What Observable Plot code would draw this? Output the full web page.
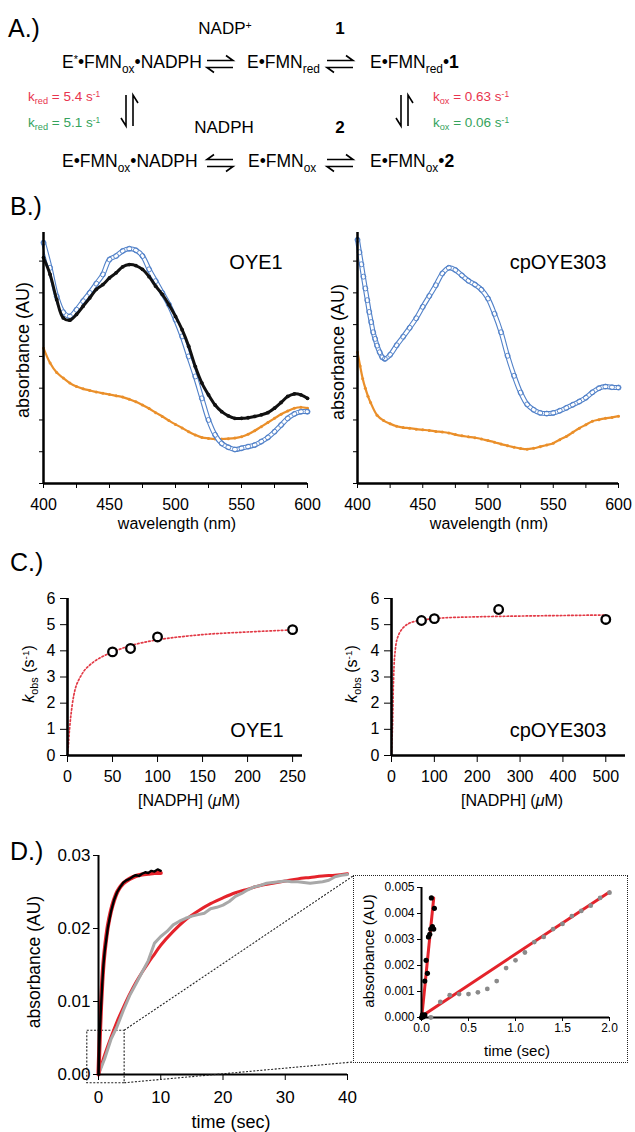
<!DOCTYPE html>
<html><head><meta charset="utf-8">
<script src="https://cdn.jsdelivr.net/npm/d3@7"></script>
<script src="https://cdn.jsdelivr.net/npm/@observablehq/plot@0.6"></script>
<style>
body{margin:0;background:#fff;}
#page{position:relative;width:635px;height:1132px;overflow:hidden;background:#fff;font-family:"Liberation Sans",Arial,Helvetica,sans-serif;color:#000;}
.t{position:absolute;white-space:nowrap;line-height:1;}
.sb{font-size:0.68em;position:relative;top:0.38em;}
.sp{font-size:0.62em;position:relative;top:-0.5em;}
</style></head><body><div id="page"></div>
<script>
// ---------- DATA ----------
// Panel B : spectra (wavelength nm, absorbance a.u.)
const wavelengths = [400,405,410,415,420,425,430,435,440,445,450,455,460,465,470,475,480,485,490,495,500,505,510,515,520,525,530,535,540,545,550,555,560,565,570,575,580,585,590,595,600];
const oye1Black  = [0.711,0.658,0.579,0.521,0.514,0.532,0.558,0.584,0.611,0.626,0.647,0.663,0.682,0.689,0.686,0.674,0.651,0.621,0.595,0.563,0.526,0.484,0.432,0.368,0.316,0.279,0.247,0.226,0.213,0.205,0.205,0.207,0.211,0.216,0.223,0.237,0.255,0.274,0.282,0.279,0.268];
const oye1Blue   = [0.758,0.679,0.589,0.539,0.526,0.547,0.574,0.600,0.629,0.658,0.705,0.716,0.732,0.739,0.734,0.716,0.674,0.637,0.600,0.563,0.516,0.463,0.400,0.337,0.268,0.200,0.153,0.126,0.114,0.107,0.111,0.116,0.121,0.132,0.145,0.163,0.184,0.205,0.219,0.226,0.226];
const oye1Orange = [0.426,0.379,0.349,0.332,0.316,0.305,0.298,0.293,0.288,0.284,0.280,0.276,0.272,0.265,0.257,0.247,0.236,0.223,0.211,0.198,0.186,0.175,0.163,0.153,0.145,0.142,0.140,0.140,0.141,0.143,0.147,0.155,0.166,0.179,0.192,0.205,0.218,0.228,0.237,0.240,0.237];
const cpBlueWl = [400,401.5,403,404.5,406,407.5,409,410.5,412,413.5,415,417,419,421,425,430,435,440,445,450,455,460,465,470,475,480,485,490,495,500,505,510,515,520,525,530,535,540,545,550,555,560,565,570,575,580,585,590,595,600];
const cpBlue   = [0.767,0.728,0.690,0.651,0.614,0.577,0.540,0.508,0.476,0.455,0.434,0.413,0.397,0.392,0.405,0.435,0.462,0.490,0.520,0.556,0.590,0.624,0.661,0.679,0.672,0.655,0.638,0.626,0.610,0.582,0.534,0.476,0.402,0.339,0.286,0.249,0.232,0.222,0.220,0.222,0.229,0.238,0.248,0.258,0.270,0.287,0.300,0.305,0.303,0.302];
const cpOrangeWl = [400,402,404,406,408,410,415,420,425,430,435,440,445,450,455,460,465,470,475,480,485,490,495,500,505,510,515,520,525,530,535,540,545,550,555,560,565,570,575,580,585,590,595,600];
const cpOrange   = [0.413,0.370,0.330,0.300,0.275,0.255,0.215,0.198,0.188,0.180,0.176,0.174,0.171,0.169,0.167,0.164,0.162,0.159,0.154,0.150,0.147,0.144,0.140,0.135,0.130,0.124,0.119,0.114,0.110,0.108,0.111,0.116,0.121,0.127,0.138,0.148,0.161,0.174,0.185,0.196,0.201,0.205,0.208,0.212];

// Panel C : kobs vs [NADPH]
const oyeConc = [50,70,100,250];
const oyeKobs = [3.96,4.09,4.53,4.81];
const oyeFitConc = [0,1,2,4,7,10,15,20,30,40,50,70,100,150,200,250];
const oyeFitK    = [0,0.40,0.90,1.60,2.30,2.70,3.05,3.30,3.60,3.80,3.95,4.20,4.42,4.62,4.72,4.80];
const cpConc = [70,100,250,500];
const cpKobs = [5.16,5.23,5.58,5.20];
const cpFitConc = [0,1,2.3,4.7,7.8,14,26,45,107,200,302,400,500];
const cpFitK    = [0,0.55,1.08,2.86,3.87,4.50,4.86,5.08,5.24,5.30,5.33,5.35,5.37];

// Panel D : time courses
const fastT   = [0,0.2,0.4,0.6,0.8,1,1.5,2,2.5,3,3.5,4,4.5,5,5.5,6,6.5,7,7.5,8,8.5,9,9.5,10];
const fastAbs = [0,0.0056,0.0092,0.0124,0.0151,0.0169,0.0201,0.0223,0.0239,0.0250,0.0257,0.0263,0.0266,0.0268,0.0271,0.0273,0.0272,0.0275,0.0277,0.0276,0.0279,0.0278,0.0281,0.0279];
const fastFitT   = [0,0.2,0.4,0.6,0.8,1,1.5,2,2.5,3,3.5,4,5,6,7,8,9,10];
const fastFitAbs = [0,0.0052,0.0094,0.0127,0.0152,0.0170,0.0203,0.0224,0.0239,0.0250,0.0257,0.0262,0.0268,0.0272,0.0274,0.0275,0.0276,0.0276];
const slowT   = [0,1,2,3,4,5,6,7,8,9,10,11,12,13,14,15,16,17,18,19,20,21,22,23,24,25,26,27,28,29,30,31,32,33,34,35,36,37,38,39,40];
const slowAbs = [0,0.0022,0.0048,0.0066,0.0088,0.0108,0.0124,0.0140,0.0156,0.0180,0.0189,0.0196,0.0205,0.0210,0.0214,0.0217,0.0219,0.0221,0.0227,0.0229,0.0232,0.0237,0.0244,0.0248,0.0253,0.0257,0.0259,0.0262,0.0263,0.0264,0.0265,0.0264,0.0264,0.0263,0.0262,0.0263,0.0264,0.0266,0.0271,0.0273,0.0274];
const slowFitT   = [0,1,2,3,4,5,6,7,8,9,10,12,14,16,18,20,22,24,26,28,30,32,34,36,38,40];
const slowFitAbs = [0,0.0027,0.0051,0.0073,0.0092,0.0110,0.0126,0.0140,0.0153,0.0165,0.0177,0.0196,0.0212,0.0224,0.0234,0.0242,0.0249,0.0254,0.0259,0.0262,0.0265,0.0268,0.0270,0.0272,0.0273,0.0275];
const zoomBoxT = [-1.8, 4.2];
const zoomBoxAbs = [-0.0012, 0.006];
// inset
const inFastT = [0,0.01,0.018,0.035,0.035,0.049,0.063,0.074,0.088,0.098,0.105,0.116,0.13,0.137];
const inFastV = [0,0.0001,0.00003,0.0001,0.0014,0.0022,0.0017,0.0031,0.0032,0.0034,0.0046,0.0035,0.0034,0.0042];
const inSlowT = [0.1,0.2,0.3,0.4,0.5,0.6,0.7,0.8,0.9,1.0,1.1,1.2,1.3,1.4,1.5,1.6,1.7,1.8,1.9,2.0];
const inSlowV = [0,0.0006,0.00086,0.0009,0.0009,0.00097,0.0011,0.0014,0.0019,0.0022,0.0025,0.0029,0.0031,0.0034,0.0036,0.0039,0.0041,0.0043,0.0046,0.0048];
const inFastFitT = [0.005,0.13], inFastFitV = [0.0001,0.0046];
const inSlowFitT = [0.01,2.0],  inSlowFitV = [0.00007,0.00483];

// ---------- HELPERS ----------
const page = document.getElementById("page");
const FONT = '"Liberation Sans", Arial, Helvetica, sans-serif';
const BLUE = "#5080c8", ORANGE = "#ea8f2a", RED = "#e4232b", CRED = "#e23a46";
const zip = (xs, ys) => xs.map((x, i) => ({x, y: ys[i]}));
function txt(html, x, y, o = {}) {
  const d = document.createElement("div");
  d.className = "t"; d.innerHTML = html;
  d.style.left = x + "px"; d.style.top = y + "px";
  d.style.fontSize = (o.size || 16) + "px";
  if (o.color) d.style.color = o.color;
  if (o.weight) d.style.fontWeight = o.weight;
  const ax = o.anchor === "start" ? "0" : o.anchor === "end" ? "-100%" : "-50%";
  d.style.transform = `translate(${ax},-50%)` + (o.rotate ? ` rotate(${o.rotate}deg)` : "");
  page.append(d);
}
function mount(svg, left, top) {
  svg.style.position = "absolute"; svg.style.left = left + "px"; svg.style.top = top + "px";
  page.append(svg); return svg;
}
const st = (fs) => ({fontFamily: FONT, fontSize: fs + "px", color: "#000", background: "transparent", overflow: "visible"});

// ---------- PANEL A (scheme) ----------
txt("A.)", 8, 28, {size: 25, anchor: "start"});
txt('NADP<span class="sp">+</span>', 225, 28, {size: 17});
txt("1", 340, 28, {size: 17, weight: "bold"});
txt('E<span class="sp">*</span>•FMN<span class="sb">ox</span>•NADPH', 62, 63, {size: 17.5, anchor: "start"});
txt('E•FMN<span class="sb">red</span>', 247, 63, {size: 17.5, anchor: "start"});
txt('E•FMN<span class="sb">red</span>•<b>1</b>', 370, 63, {size: 17.5, anchor: "start"});
txt('k<span class="sb">red</span> = 5.4 s<span class="sp">-1</span>', 28, 97, {size: 13.5, anchor: "start", color: "#e8344e"});
txt('k<span class="sb">red</span> = 5.1 s<span class="sp">-1</span>', 28, 123, {size: 13.5, anchor: "start", color: "#35a35c"});
txt('k<span class="sb">ox</span> = 0.63 s<span class="sp">-1</span>', 433, 97, {size: 13.5, anchor: "start", color: "#e8344e"});
txt('k<span class="sb">ox</span> = 0.06 s<span class="sp">-1</span>', 433, 123, {size: 13.5, anchor: "start", color: "#35a35c"});
txt("NADPH", 224, 127, {size: 17});
txt("2", 340, 127, {size: 17, weight: "bold"});
txt('E•FMN<span class="sb">ox</span>•NADPH', 62, 162, {size: 17.5, anchor: "start"});
txt('E•FMN<span class="sb">ox</span>', 248, 162, {size: 17.5, anchor: "start"});
txt('E•FMN<span class="sb">ox</span>•<b>2</b>', 370, 162, {size: 17.5, anchor: "start"});
(function arrows() {
  const ns = "http://www.w3.org/2000/svg";
  const s = document.createElementNS(ns, "svg");
  s.setAttribute("width", 635); s.setAttribute("height", 180);
  const pair = (xa, xb, yc, topRight) => {
    const yt = yc - 3.5, yb = yc + 3.5;
    return topRight
      ? `M${xa},${yt}H${xb}L${xb-7},${yt-5} M${xb},${yb}H${xa}L${xa+7},${yb+5}`
      : `M${xb},${yt}H${xa}L${xa+7},${yt-5} M${xa},${yb}H${xb}L${xb-7},${yb+5}`;
  };
  const vpair = (xc, y1, y2) => {
    const xl = xc - 3.5, xr = xc + 3.5;
    return `M${xl},${y1}V${y2}L${xl-5},${y2-8} M${xr},${y2}V${y1}L${xr+5},${y1+8}`;
  };
  const d = [pair(207,233,64,true), pair(327,353,64,true), pair(207,233,163,false), pair(327,353,163,true),
             vpair(129.5,95,126), vpair(404.5,95,126)].join(" ");
  const p = document.createElementNS(ns, "path");
  p.setAttribute("d", d); p.setAttribute("fill", "none"); p.setAttribute("stroke", "#000");
  p.setAttribute("stroke-width", 1.6);
  s.append(p); mount(s, 0, 0);
})();

// ---------- PANEL B ----------
txt("B.)", 10, 206, {size: 25, anchor: "start"});
function spectrum(series, left, width, mL, mR) {
  const marks = [];
  for (const s of series) {
    if (s.kind === "blue") {
      marks.push(Plot.line(s.data, {x: "x", y: "y", stroke: BLUE, strokeWidth: 5, curve: "catmull-rom"}));
      marks.push(Plot.line(s.data, {x: "x", y: "y", stroke: "#fff", strokeWidth: 2.8, curve: "catmull-rom"}));
      marks.push(Plot.dot(s.data, {x: "x", y: "y", r: 2.5, stroke: BLUE, strokeWidth: 0.9, fill: "none"}));
    } else {
      const c = s.kind === "orange" ? ORANGE : "#111";
      marks.push(Plot.line(s.data, {x: "x", y: "y", stroke: c, strokeWidth: s.kind === "orange" ? 2.2 : 3, curve: "catmull-rom"}));
      marks.push(Plot.dot(s.data, {x: "x", y: "y", r: s.kind === "orange" ? 1.5 : 1.9, fill: c}));
    }
  }
  marks.push(Plot.ruleX([400], {y1: 0, y2: 0.79, strokeWidth: 2.5}));
  marks.push(Plot.ruleY([0], {x1: 400, x2: 600, strokeWidth: 2.5}));
  marks.push(Plot.axisX({ticks: [400,425,450,475,500,525,550,575,600], tickFormat: d => d % 50 ? "" : d, tickSize: 5, tickPadding: 10, label: null}));
  marks.push(Plot.axisY({ticks: [0,0.1,0.2,0.3,0.4,0.5,0.6,0.7], tickFormat: () => "", tickSize: 4, label: null}));
  return mount(Plot.plot({
    width, height: 300, marginLeft: mL, marginRight: mR, marginTop: 17, marginBottom: 32,
    x: {domain: [400, 600], label: null}, y: {domain: [0, 0.79], label: null},
    style: st(16), marks
  }), left, 215);
}
spectrum([
  {kind: "orange", data: zip(wavelengths, oye1Orange)},
  {kind: "blue", data: zip(wavelengths, oye1Blue)},
  {kind: "black", data: zip(wavelengths, oye1Black)}
], 0, 320, 43, 13);
spectrum([
  {kind: "orange", data: zip(cpOrangeWl, cpOrange)},
  {kind: "blue", data: zip(cpBlueWl, cpBlue)}
], 320, 315, 37, 17);
txt("absorbance (AU)", 23, 350, {size: 18, rotate: -90});
txt("absorbance (AU)", 338, 352, {size: 18, rotate: -90});
txt("wavelength (nm)", 177, 524, {size: 16});
txt("wavelength (nm)", 489, 524, {size: 16});
txt("OYE1", 256, 262, {size: 20});
txt("cpOYE303", 558, 262, {size: 20});

// ---------- PANEL C ----------
txt("C.)", 10, 562, {size: 25, anchor: "start"});
function kinetics(pts, fit, xmax, xticks, left, width, mL, mR) {
  return mount(Plot.plot({
    width, height: 215, marginLeft: mL, marginRight: mR, marginTop: 23, marginBottom: 35,
    x: {domain: [0, xmax], label: null}, y: {domain: [0, 6], label: null},
    style: st(16),
    marks: [
      Plot.line(fit, {x: "x", y: "y", stroke: CRED, strokeWidth: 1.7, strokeDasharray: "1.6,2.2", curve: "catmull-rom"}),
      Plot.ruleX([0], {y1: 0, y2: 6, strokeWidth: 2.6}),
      Plot.ruleY([0], {x1: 0, x2: xmax, strokeWidth: 2.6}),
      Plot.axisX({ticks: xticks, tickFormat: d3.format("d"), tickSize: 7, tickPadding: 8, label: null}),
      Plot.axisY({ticks: [0,1,2,3,4,5,6], tickFormat: d3.format("d"), tickSize: 7, tickPadding: 5, label: null}),
      Plot.dot(pts, {x: "x", y: "y", r: 4.3, stroke: "#000", strokeWidth: 2.3, fill: "#fff"})
    ]
  }), left, 575);
}
kinetics(zip(oyeConc, oyeKobs), zip(oyeFitConc, oyeFitK), 261, [0,50,100,150,200,250], 0, 320, 67, 18);
kinetics(zip(cpConc, cpKobs), zip(cpFitConc, cpFitK), 546, [0,100,200,300,400,500], 320, 315, 71, 10);
const kLab = '<i>k</i><span class="sb">obs</span> (s<span class="sp">-1</span>)';
txt(kLab, 29, 674, {size: 16, rotate: -90});
txt(kLab, 352, 674, {size: 16, rotate: -90});
txt('[NADPH] (<i>μ</i>M)', 189, 801, {size: 16});
txt('[NADPH] (<i>μ</i>M)', 512, 801, {size: 16});
txt("OYE1", 257, 730, {size: 20});
txt("cpOYE303", 558, 730, {size: 20});

// ---------- PANEL D ----------
txt("D.)", 10, 851, {size: 25, anchor: "start"});
const dLeft = 0, dTop = 835;
const plotD = mount(Plot.plot({
  width: 360, height: 297, marginLeft: 98, marginRight: 13, marginTop: 20, marginBottom: 58,
  x: {domain: [0, 40], label: null}, y: {domain: [0, 0.03], label: null},
  style: st(17),
  marks: [
    Plot.rect([{x1: zoomBoxT[0], x2: zoomBoxT[1], y1: zoomBoxAbs[0], y2: zoomBoxAbs[1]}],
      {x1: "x1", x2: "x2", y1: "y1", y2: "y2", fill: "none", stroke: "#222", strokeWidth: 1.1, strokeDasharray: "2,1.6"}),
    Plot.line(zip(slowFitT, slowFitAbs), {x: "x", y: "y", stroke: RED, strokeWidth: 3, curve: "catmull-rom"}),
    Plot.line(zip(slowT, slowAbs), {x: "x", y: "y", stroke: "#a8a8a8", strokeWidth: 3}),
    Plot.line(zip(fastFitT, fastFitAbs), {x: "x", y: "y", stroke: RED, strokeWidth: 4.2, curve: "catmull-rom"}),
    Plot.line(zip(fastT, fastAbs), {x: "x", y: "y", stroke: "#000", strokeWidth: 2.4}),
    Plot.ruleX([0], {y1: 0, y2: 0.03, strokeWidth: 2}),
    Plot.ruleY([0], {x1: 0, x2: 40, strokeWidth: 2}),
    Plot.axisX({ticks: [0,10,20,30,40], tickSize: 6, tickPadding: 10, label: null}),
    Plot.axisY({ticks: [0,0.01,0.02,0.03], tickFormat: d3.format(".2f"), tickSize: 5, tickPadding: 3, label: null})
  ]
}), dLeft, dTop);
txt("absorbance (AU)", 35, 962, {size: 17.5, rotate: -90});
txt("time (sec)", 231, 1122, {size: 18});

// inset box
const inL = 353, inT = 875, inW = 275, inH = 188;
const box = document.createElement("div");
Object.assign(box.style, {position: "absolute", left: inL + "px", top: inT + "px", width: inW + "px", height: inH + "px",
  border: "1.3px dotted #222", boxSizing: "border-box"});
page.append(box);
// connectors from zoom box corners to inset box
(function connectors() {
  const sx = plotD.scale("x"), sy = plotD.scale("y");
  const cx = dLeft + sx.apply(zoomBoxT[1]);
  const cyTop = dTop + sy.apply(zoomBoxAbs[1]), cyBot = dTop + sy.apply(zoomBoxAbs[0]);
  const ns = "http://www.w3.org/2000/svg";
  const s = document.createElementNS(ns, "svg");
  s.setAttribute("width", 635); s.setAttribute("height", 1132);
  s.style.pointerEvents = "none";
  const p = document.createElementNS(ns, "path");
  p.setAttribute("d", `M${cx},${cyTop}L${inL},${inT + 1} M${cx},${cyBot}L${inL},${inT + inH - 1}`);
  p.setAttribute("stroke", "#222"); p.setAttribute("stroke-width", 1.1);
  p.setAttribute("stroke-dasharray", "2,1.6"); p.setAttribute("fill", "none");
  s.append(p); mount(s, 0, 0);
})();
mount(Plot.plot({
  width: inW, height: inH, marginLeft: 68, marginRight: 19, marginTop: 12, marginBottom: 46,
  x: {domain: [0, 2], label: null}, y: {domain: [0, 0.005], label: null},
  style: st(12),
  marks: [
    Plot.line(zip(inSlowFitT, inSlowFitV), {x: "x", y: "y", stroke: RED, strokeWidth: 3}),
    Plot.line(zip(inFastFitT, inFastFitV), {x: "x", y: "y", stroke: RED, strokeWidth: 3}),
    Plot.ruleX([0], {y1: 0, y2: 0.005, strokeWidth: 2}),
    Plot.ruleY([0], {x1: 0, x2: 2, strokeWidth: 2}),
    Plot.dot(zip(inSlowT, inSlowV), {x: "x", y: "y", r: 2.4, fill: "#8a8a8a"}),
    Plot.dot(zip(inFastT, inFastV), {x: "x", y: "y", r: 2.6, fill: "#000"}),
    Plot.axisX({ticks: [0,0.5,1,1.5,2], tickFormat: d3.format(".1f"), tickSize: 4, tickPadding: 2, label: null}),
    Plot.axisY({ticks: [0,0.001,0.002,0.003,0.004,0.005], tickFormat: d3.format(".3f"), tickSize: 4, tickPadding: 3, label: null})
  ]
}), inL, inT);
txt("absorbance (AU)", 368, 951, {size: 15, rotate: -90});
txt("time (sec)", 517, 1050, {size: 15});
</script></body></html>
